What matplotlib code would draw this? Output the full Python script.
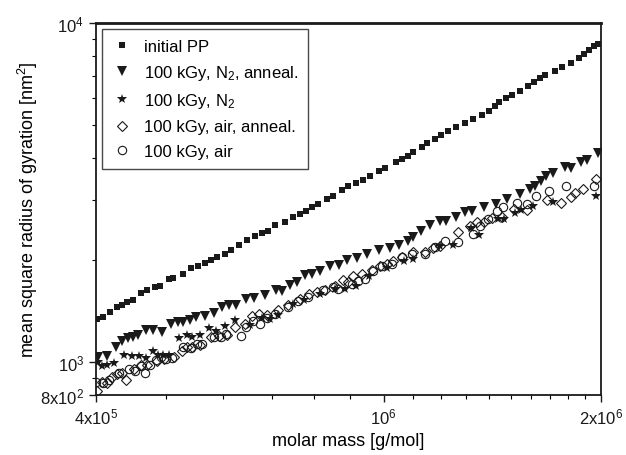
import numpy as np
import matplotlib
matplotlib.use('Agg')
import matplotlib.pyplot as plt
from matplotlib.ticker import FixedLocator, NullFormatter

plt.rcParams['font.family'] = 'Liberation Sans'
plt.rcParams['mathtext.default'] = 'regular'

# molar mass [g/mol] and <Rg^2> [nm^2]
pp_m = [401.3e3, 409.0e3, 418.3e3, 427.7e3, 434.5e3, 441.5e3, 450.0e3, 461.7e3, 470.6e3, 482.7e3,
        490.5e3, 504.8e3, 511.3e3, 527.8e3, 541.5e3, 553.6e3, 566.1e3, 577.1e3, 588.2e3, 603.4e3,
        615.0e3, 630.9e3, 647.3e3, 664.0e3, 679.0e3, 692.0e3, 707.6e3, 730.6e3, 749.4e3, 766.3e3,
        781.1e3, 796.2e3, 811.6e3, 835.2e3, 851.3e3, 876.1e3, 893.0e3, 916.1e3, 936.8e3, 957.8e3,
        985.7e3, 1004.8e3, 1040.6e3, 1060.7e3, 1081.2e3, 1098.5e3, 1130.5e3, 1148.7e3, 1178.3e3, 1201.1e3,
        1228.2e3, 1259.9e3, 1296.6e3, 1330.1e3, 1368.7e3, 1399.6e3, 1426.6e3, 1445.0e3, 1477.6e3, 1506.1e3,
        1545.0e3, 1585.0e3, 1615.6e3, 1646.8e3, 1673.2e3, 1727.3e3, 1766.3e3, 1817.7e3, 1864.7e3, 1894.6e3,
        1925.1e3, 1956.0e3, 1981.1e3]
pp_rg = [1340, 1359, 1406, 1454, 1474, 1504, 1525, 1599, 1632, 1666,
         1677, 1759, 1771, 1819, 1895, 1921, 1960, 2001, 2042, 2084,
         2141, 2215, 2292, 2355, 2403, 2436, 2537, 2590, 2679, 2734,
         2790, 2867, 2926, 3027, 3090, 3218, 3307, 3375, 3444, 3539,
         3661, 3737, 3892, 3972, 4054, 4165, 4309, 4428, 4550, 4675,
         4804, 4936, 5072, 5211, 5355, 5503, 5692, 5849, 6010, 6134,
         6303, 6521, 6700, 6885, 7026, 7219, 7418, 7623, 7886, 8103,
         8326, 8555, 8672]

n2a_m = [402.6e3, 414.3e3, 426.3e3, 434.5e3, 442.9e3, 450.0e3, 457.3e3, 469.1e3, 479.7e3, 493.6e3,
         508.0e3, 519.5e3, 527.8e3, 539.7e3, 550.1e3, 566.1e3, 582.7e3, 597.6e3, 611.1e3, 624.9e3,
         645.2e3, 661.9e3, 685.5e3, 709.9e3, 723.6e3, 742.3e3, 759.0e3, 778.6e3, 796.2e3, 816.8e3,
         843.3e3, 867.8e3, 890.1e3, 919.0e3, 948.7e3, 985.7e3, 1020.9e3, 1050.6e3, 1081.2e3, 1098.5e3,
         1126.9e3, 1159.7e3, 1197.3e3, 1220.4e3, 1259.9e3, 1296.6e3, 1325.8e3, 1377.5e3, 1431.2e3, 1482.3e3,
         1545.0e3, 1595.1e3, 1620.7e3, 1652.0e3, 1678.5e3, 1716.4e3, 1783.3e3, 1817.7e3, 1876.6e3, 1912.9e3,
         1981.1e3]
n2a_rg = [1035, 1043, 1108, 1154, 1178, 1186, 1202, 1244, 1244, 1227,
          1296, 1313, 1313, 1331, 1359, 1368, 1396, 1454, 1474, 1474,
          1535, 1546, 1578, 1632, 1621, 1688, 1723, 1807, 1819, 1857,
          1921, 1934, 2001, 2028, 2084, 2141, 2171, 2215, 2276, 2339,
          2436, 2537, 2607, 2607, 2679, 2772, 2790, 2867, 2926, 3027,
          3132, 3240, 3307, 3421, 3539, 3612, 3762, 3737, 3892, 3945,
          4137]

n2_m = [402.6e3, 407.7e3, 414.3e3, 423.7e3, 437.3e3, 448.6e3, 458.8e3, 469.1e3, 479.7e3, 487.4e3,
        495.2e3, 504.8e3, 521.2e3, 534.6e3, 543.2e3, 557.2e3, 573.5e3, 586.3e3, 603.4e3, 622.9e3,
        653.5e3, 679.0e3, 696.4e3, 714.4e3, 749.4e3, 776.1e3, 816.8e3, 856.8e3, 884.5e3, 916.1e3,
        954.8e3, 1011.2e3, 1067.5e3, 1098.5e3, 1197.3e3, 1248.0e3, 1321.6e3, 1355.7e3, 1440.4e3, 1468.2e3,
        1520.6e3, 1550.0e3, 1610.4e3, 1716.4e3, 1968.5e3]
n2_rg = [1001, 974, 981, 994, 1050, 1043, 1043, 1028, 1079, 1050,
         1050, 1050, 1178, 1202, 1186, 1202, 1261, 1235, 1278, 1331,
         1287, 1349, 1340, 1377, 1484, 1525, 1588, 1643, 1643, 1677,
         1795, 1895, 1987, 2014, 2200, 2215, 2486, 2371, 2643, 2643,
         2753, 2809, 2887, 2966, 3090]

aira_m = [401.3e3, 407.7e3, 414.3e3, 421.0e3, 427.7e3, 434.5e3, 440.1e3, 451.5e3, 461.7e3, 470.6e3,
          485.8e3, 496.8e3, 512.9e3, 526.2e3, 534.6e3, 543.2e3, 557.2e3, 577.1e3, 591.9e3, 607.2e3,
          622.9e3, 643.1e3, 657.6e3, 672.5e3, 689.8e3, 714.4e3, 737.6e3, 766.3e3, 788.6e3, 809.0e3,
          829.9e3, 856.8e3, 878.9e3, 893.0e3, 907.3e3, 933.8e3, 964.0e3, 988.8e3, 1011.2e3, 1030.8e3,
          1060.7e3, 1098.5e3, 1141.4e3, 1170.9e3, 1197.3e3, 1268.0e3, 1317.4e3, 1347.1e3, 1377.5e3, 1413.0e3,
          1458.8e3, 1515.8e3, 1579.9e3, 1683.9e3, 1760.7e3, 1817.7e3, 1841.1e3, 1888.6e3, 1968.5e3]
aira_rg = [822, 874, 868, 904, 923, 929, 886, 955, 981, 981,
           1008, 1022, 1035, 1079, 1108, 1108, 1123, 1186, 1194, 1202,
           1269, 1296, 1368, 1387, 1377, 1425, 1474, 1535, 1588, 1610,
           1632, 1677, 1747, 1723, 1795, 1819, 1869, 1921, 1947, 1987,
           2042, 2112, 2112, 2171, 2200, 2420, 2520, 2590, 2590, 2661,
           2679, 2829, 2809, 3007, 2946, 3069, 3153, 3240, 3468]

air_m = [400.0e3, 409.0e3, 417.0e3, 430.4e3, 444.3e3, 452.9e3, 461.7e3, 467.6e3, 475.1e3, 484.3e3,
         492.1e3, 500.0e3, 509.7e3, 527.8e3, 541.5e3, 551.9e3, 560.7e3, 582.7e3, 595.7e3, 605.3e3,
         634.9e3, 645.2e3, 659.8e3, 674.6e3, 689.8e3, 707.6e3, 737.6e3, 761.5e3, 786.1e3, 824.6e3,
         851.3e3, 865.0e3, 904.4e3, 921.9e3, 942.8e3, 967.1e3, 995.2e3, 1027.5e3, 1060.7e3, 1095.0e3,
         1141.4e3, 1178.3e3, 1216.5e3, 1268.0e3, 1330.1e3, 1360.1e3, 1395.2e3, 1435.8e3, 1463.5e3, 1530.3e3,
         1579.9e3, 1625.9e3, 1694.6e3, 1789.0e3, 1956.0e3]
air_rg = [874, 868, 886, 929, 955, 942, 974, 929, 981, 1015,
          1035, 1022, 1028, 1108, 1101, 1131, 1131, 1186, 1186, 1211,
          1194, 1269, 1322, 1296, 1349, 1387, 1454, 1515, 1556, 1632,
          1666, 1643, 1700, 1735, 1759, 1857, 1921, 1947, 2042, 2084,
          2084, 2185, 2276, 2261, 2387, 2520, 2643, 2790, 2867, 2946,
          2926, 3090, 3196, 3307, 3307]

fig = plt.figure(figsize=(6.26, 4.56), dpi=100)
ax = fig.add_axes([0.1534, 0.1316, 0.8067, 0.8158])

ax.plot(pp_m, pp_rg, 's', color='#1a1a1a', ms=5.0, mew=0, label='initial PP')
ax.plot(n2a_m, n2a_rg, 'v', color='#1a1a1a', ms=7.0, mew=0, label='100 kGy, N$_2$, anneal.')
ax.plot(n2_m, n2_rg, '*', color='#1a1a1a', ms=7.5, mew=0, label='100 kGy, N$_2$')
ax.plot(aira_m, aira_rg, 'D', mfc='none', mec='#1a1a1a', ms=5.5, mew=0.8, label='100 kGy, air, anneal.')
ax.plot(air_m, air_rg, 'o', mfc='none', mec='#1a1a1a', ms=6.0, mew=0.8, label='100 kGy, air')

ax.set_xscale('log')
ax.set_yscale('log')
ax.set_xlim(4e5, 2e6)
ax.set_ylim(8e2, 1e4)

ax.xaxis.set_major_locator(FixedLocator([4e5, 1e6, 2e6]))
ax.set_xticklabels(['4x10$^5$', '10$^6$', '2x10$^6$'])
ax.xaxis.set_minor_locator(FixedLocator([5e5, 6e5, 7e5, 8e5, 9e5, 1.1e6, 1.2e6, 1.3e6, 1.4e6,
                                         1.5e6, 1.6e6, 1.7e6, 1.8e6, 1.9e6]))
ax.xaxis.set_minor_formatter(NullFormatter())
ax.yaxis.set_major_locator(FixedLocator([8e2, 1e3, 1e4]))
ax.set_yticklabels(['8x10$^2$', '10$^3$', '10$^4$'])
ax.yaxis.set_minor_locator(FixedLocator([9e2, 2e3, 3e3, 4e3, 5e3, 6e3, 7e3, 8e3, 9e3]))
ax.yaxis.set_minor_formatter(NullFormatter())

ax.tick_params(which='major', direction='out', length=5, width=1, labelsize=12, colors='#1a1a1a')
ax.tick_params(which='minor', direction='out', length=3, width=0.8)
for s in ax.spines.values():
    s.set_linewidth(1.3)
    s.set_color('#1a1a1a')
ax.spines['top'].set_linewidth(2)

ax.set_xlabel('molar mass [g/mol]', fontsize=13, labelpad=4)
ax.set_ylabel('mean square radius of gyration [nm$^2$]', fontsize=13)
ax.yaxis.set_label_coords(-0.11, 0.5)

leg = ax.legend(loc='upper left', bbox_to_anchor=(0.012, 0.984), borderaxespad=0,
                fontsize=12, frameon=True, fancybox=False, edgecolor='#1a1a1a',
                handletextpad=0.7, labelspacing=0.55, borderpad=0.6, handlelength=1.2)
leg.get_frame().set_linewidth(1.0)

plt.savefig('out.png', dpi=100)
